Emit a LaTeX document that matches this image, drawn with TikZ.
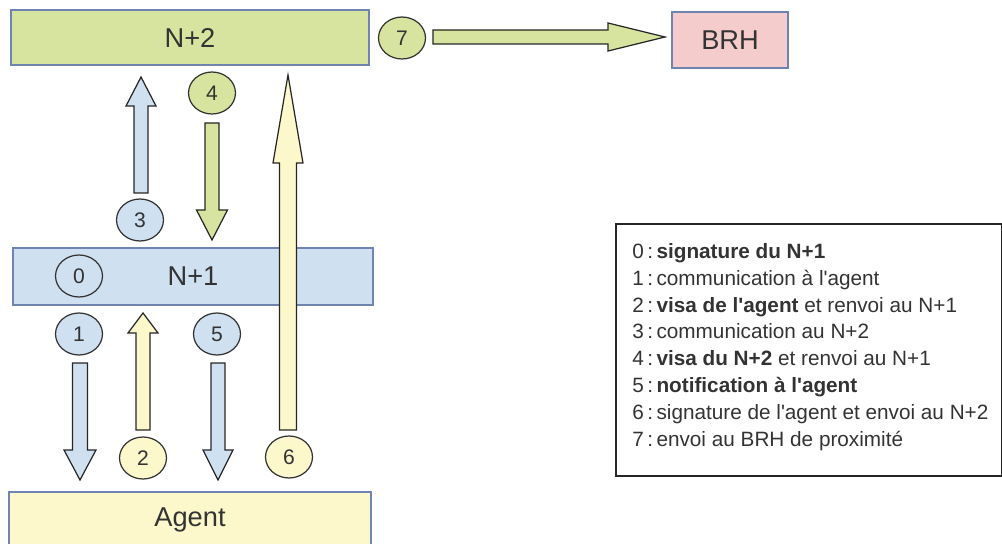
\documentclass[tikz,border=0pt]{standalone}
\usepackage{fontspec}
\setmainfont{Liberation Sans}
\usepackage{tikz}
\usetikzlibrary{calc, shapes.geometric}

\definecolor{greenfill}{RGB}{215,228,160}
\definecolor{bluefill}{RGB}{207,224,240}
\definecolor{yellowfill}{RGB}{252,248,204}
\definecolor{pinkfill}{RGB}{244,204,204}
\definecolor{boxline}{RGB}{112,132,178}
\definecolor{textgray}{RGB}{51,51,51}

\tikzset{
    levelbox/.style={draw=boxline, line width=0.8pt, text=textgray,
        font=\fontsize{15.5}{18}\selectfont, inner sep=0pt},
    stepmark/.style={ellipse, draw=black!80, line width=0.7pt, text=textgray,
        minimum width=0.94cm, minimum height=0.84cm, inner sep=0pt,
        font=\fontsize{12}{14}\selectfont},
    blockline/.style={draw=black!85, line width=0.7pt, line join=miter}
}

% block arrow: fill, tail, tip, head length, shaft half width, head half width
\newcommand{\blockarrow}[6]{%
    \coordinate (hb) at ($(#3)!#4!(#2)$);
    \filldraw[blockline, fill=#1]
        ($(#2)!#5!90:(#3)$) -- ($(hb)!#5!90:(#3)$) -- ($(hb)!#6!90:(#3)$) -- (#3)
        -- ($(hb)!#6!-90:(#3)$) -- ($(hb)!#5!-90:(#3)$) -- ($(#2)!#5!-90:(#3)$) -- cycle;
}
\newcommand{\ap}{\textquotesingle}

\begin{document}
\begin{tikzpicture}[x=0.02cm, y=-0.02cm]
    \useasboundingbox (0,0) rectangle (1002,544);
    \clip (0,0) rectangle (1002,544);

    % levels
    \node[levelbox, fill=greenfill, minimum width=7.16cm, minimum height=1.1cm] (n2) at (190,37.5) {N+2};
    \node[levelbox, fill=bluefill, minimum width=7.2cm, minimum height=1.14cm] (n1) at (193,276.5) {N+1};
    \node[levelbox, fill=yellowfill, minimum width=7.24cm, minimum height=1.12cm] (agent) at (190,520) {Agent};
    \node[levelbox, fill=pinkfill, minimum width=2.32cm, minimum height=1.12cm] (brh) at (730,40) {BRH};

    % arrow ends
    \coordinate (a1s) at (80,363);   \coordinate (a1e) at (80,480);
    \coordinate (a2s) at (143,430);  \coordinate (a2e) at (143,313);
    \coordinate (a3s) at (141,193);  \coordinate (a3e) at (141,77);
    \coordinate (a4s) at (212,123);  \coordinate (a4e) at (212,240);
    \coordinate (a5s) at (218,363);  \coordinate (a5e) at (218,480);
    \coordinate (a6s) at (288,430);  \coordinate (a6e) at (288,75);
    \coordinate (a7s) at (433,37);   \coordinate (a7e) at (665,37);

    \blockarrow{bluefill}{a1s}{a1e}{0.6cm}{0.15cm}{0.32cm}
    \blockarrow{yellowfill}{a2s}{a2e}{0.4cm}{0.14cm}{0.3cm}
    \blockarrow{bluefill}{a3s}{a3e}{0.58cm}{0.14cm}{0.3cm}
    \blockarrow{greenfill}{a4s}{a4e}{0.6cm}{0.14cm}{0.31cm}
    \blockarrow{bluefill}{a5s}{a5e}{0.6cm}{0.14cm}{0.3cm}
    \blockarrow{yellowfill}{a6s}{a6e}{1.76cm}{0.17cm}{0.3cm}
    \blockarrow{greenfill}{a7s}{a7e}{1.14cm}{0.14cm}{0.28cm}

    % step numbers
    \node[stepmark, fill=bluefill] (s0) at (79,276) {0};
    \node[stepmark, fill=bluefill] (s1) at (79,334) {1};
    \node[stepmark, fill=yellowfill] (s2) at (143,458) {2};
    \node[stepmark, fill=bluefill] (s3) at (140,220) {3};
    \node[stepmark, fill=greenfill] (s4) at (212,93) {4};
    \node[stepmark, fill=bluefill] (s5) at (217,334) {5};
    \node[stepmark, fill=yellowfill] (s6) at (289,457) {6};
    \node[stepmark, fill=greenfill] (s7) at (402,38) {7};

    % legend
    \node[draw=black!85, line width=0.9pt, anchor=north west,
        minimum width=7.72cm, minimum height=5.04cm] (legend) at (615,223) {};
    \node[anchor=west, inner sep=0pt, text=textgray, align=left,
        font=\fontsize{11.8}{15.3}\selectfont] (legendtext) at (632,347) {%
        0\,:\,\textbf{signature du N+1}\\
        1\,:\,communication à l\ap agent\\
        2\,:\,\textbf{visa de l\ap agent} et renvoi au N+1\\
        3\,:\,communication au N+2\\
        4\,:\,\textbf{visa du N+2} et renvoi au N+1\\
        5\,:\,\textbf{notification à l\ap agent}\\
        6\,:\,signature de l\ap agent et envoi au N+2\\
        7\,:\,envoi au BRH de proximité};
\end{tikzpicture}
\end{document}
